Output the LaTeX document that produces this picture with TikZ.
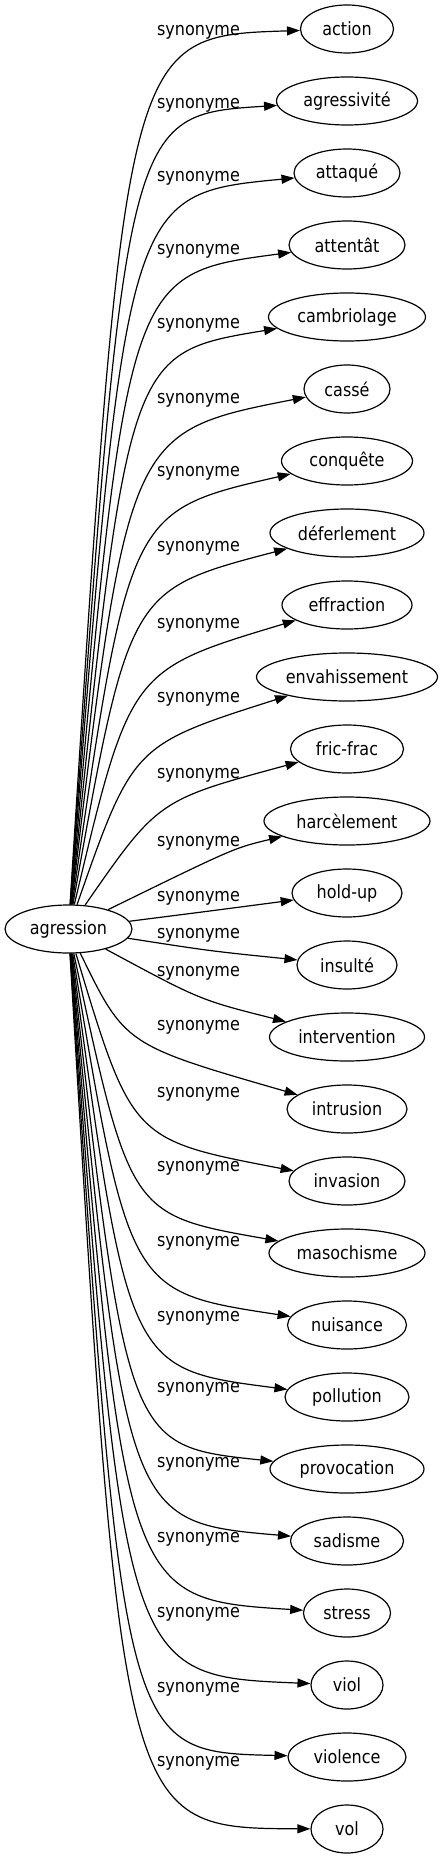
\documentclass[tikz,border=0pt]{standalone}
\usepackage{fontspec}
\setmainfont{DejaVu Sans}[FakeStretch=0.88]
\usetikzlibrary{arrows.meta,shapes.geometric}

\tikzset{
    word/.style={draw, ellipse, line width=1.2pt, inner sep=0pt, minimum height=48pt, font=\fontsize{18.2}{22}\selectfont},
    rel/.style={inner sep=0pt, font=\fontsize{18.2}{22}\selectfont},
    syn/.style={-{Triangle[length=13pt,width=9pt]}, line width=1.2pt},
}

\begin{document}
\begin{tikzpicture}[x=1pt,y=-1pt]
    \useasboundingbox (0,0) rectangle (443,1859);

    \node[word, minimum width=127pt] (ag) at (68.5,929) {agression};

    \foreach \w/\d [count=\s from 0] in {action/93, agressivité/141, attaqué/106, attentât/116, cambriolage/157, cassé/86, conquête/131, déferlement/154, effraction/130, envahissement/181, fric-frac/113, harcèlement/166, hold-up/110, insulté/100, intervention/155, intrusion/120, invasion/116, masochisme/156, nuisance/119, pollution/124, provocation/154, sadisme/113, stress/87, viol/72, violence/118, vol/72} {
        \node[word, minimum width=\d pt] (s\s) at (347,29+72*\s) {\w};
    }

    \foreach \y [count=\s from 0] in {32,105,178,251,325,400,473,548,625,699,775,843,898,935,973,1027,1094,1168,1243,1318,1389,1464,1539,1614,1689,1763} {
        \node[rel] (l\s) at (198.5,\y) {synonyme};
    }

    \draw[syn] (ag) .. controls (125,36) .. (s0);
    \draw[syn] (ag) .. controls (126,115) .. (s1);
    \draw[syn] (ag) .. controls (126,194) .. (s2);
    \draw[syn] (ag) .. controls (127,274) .. (s3);
    \draw[syn] (ag) .. controls (128,353) .. (s4);
    \draw[syn] (ag) .. controls (128,432) .. (s5);
    \draw[syn] (ag) .. controls (129,511) .. (s6);
    \draw[syn] (ag) .. controls (129,590) .. (s7);
    \draw[syn] (ag) .. controls (130,670) .. (s8);
    \draw[syn] (ag) .. controls (133,745) .. (s9);
    \draw[syn] (ag) .. controls (158,800) .. (s10);
    \draw[syn] (ag) .. controls (234,848) .. (s11);
    \draw[syn] (ag) .. controls (210,911) .. (s12);
    \draw[syn] (ag) .. controls (210,951) .. (s13);
    \draw[syn] (ag) .. controls (200,1000) .. (s14);
    \draw[syn] (ag) .. controls (125,1045) .. (s15);
    \draw[syn] (ag) .. controls (132,1140) .. (s16);
    \draw[syn] (ag) .. controls (130,1215) .. (s17);
    \draw[syn] (ag) .. controls (129,1292) .. (s18);
    \draw[syn] (ag) .. controls (128,1369) .. (s19);
    \draw[syn] (ag) .. controls (127,1446) .. (s20);
    \draw[syn] (ag) .. controls (126,1522) .. (s21);
    \draw[syn] (ag) .. controls (125,1599) .. (s22);
    \draw[syn] (ag) .. controls (124,1676) .. (s23);
    \draw[syn] (ag) .. controls (123,1752) .. (s24);
    \draw[syn] (ag) .. controls (122,1828) .. (s25);

\end{tikzpicture}
\end{document}
